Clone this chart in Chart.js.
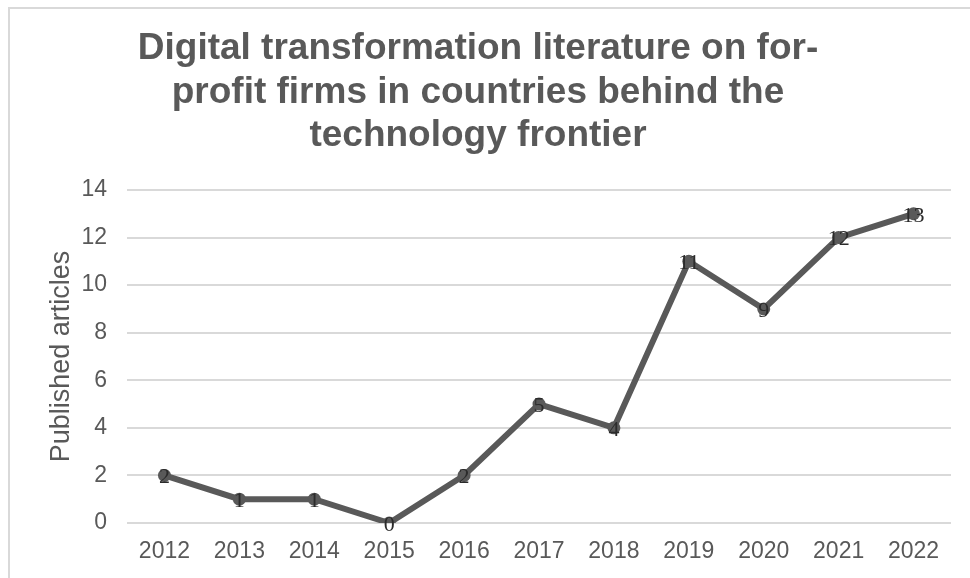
<!DOCTYPE html>
<html>
<head>
<meta charset="utf-8">
<title>Digital transformation literature</title>
<script src="https://cdn.jsdelivr.net/npm/chart.js@4"></script>
<style>
  html, body { margin: 0; padding: 0; background: #fff; }
  #wrap { position: relative; width: 970px; height: 578px; }
  #frame {
    position: absolute; left: 8px; top: 7px; right: 0; bottom: 0;
    border-top: 2px solid #d9d9d9; border-left: 2px solid #d9d9d9;
    pointer-events: none;
  }
</style>
</head>
<body>
<div id="wrap">
  <canvas id="chart" width="970" height="578"></canvas>
  <div id="frame"></div>
</div>
<script>
/* Published articles per year. */
var years = ["2012", "2013", "2014", "2015", "2016", "2017", "2018", "2019", "2020", "2021", "2022"];
var articles = [2, 1, 1, 0, 2, 5, 4, 11, 9, 12, 13];
var yMin = 0, yMax = 14, yStep = 2;

var grey = "#595959";

// draws each value centred on its marker (no datalabels plugin offline)
var pointLabels = {
  id: "pointLabels",
  afterDatasetsDraw: function (chart) {
    var ctx = chart.ctx;
    var meta = chart.getDatasetMeta(0);
    ctx.save();
    ctx.font = "22px 'Liberation Serif', 'Times New Roman', serif";
    ctx.fillStyle = "#2b2b2b";
    ctx.textAlign = "center";
    ctx.textBaseline = "middle";
    meta.data.forEach(function (pt, i) {
      ctx.fillText(String(articles[i]), pt.x, pt.y + 2);
    });
    ctx.restore();
  }
};

Chart.defaults.font.family = "'Liberation Sans', Arial, sans-serif";
Chart.defaults.color = grey;

new Chart(document.getElementById("chart").getContext("2d"), {
  type: "line",
  data: {
    labels: years,
    datasets: [{
      data: articles,
      borderColor: grey,
      backgroundColor: grey,
      borderWidth: 6,
      pointRadius: 6.5,
      pointBorderWidth: 0,
      pointBackgroundColor: grey,
      tension: 0
    }]
  },
  options: {
    responsive: false,
    animation: false,
    layout: { padding: { left: 5, right: 19, top: 10, bottom: 13 } },
    plugins: {
      legend: { display: false },
      tooltip: { enabled: false },
      title: {
        display: true,
        text: ["Digital transformation literature on for-",
               "profit firms in countries behind the",
               "technology frontier"],
        color: grey,
        font: { size: 37, weight: "bold", lineHeight: 1.18 },
        padding: { top: 17, bottom: 32 }
      }
    },
    scales: {
      x: {
        offset: true,
        afterFit: function (s) { s.height = 42; },
        grid: { display: false, drawTicks: false },
        border: { display: false },
        ticks: { color: grey, font: { size: 23 }, padding: 15, maxRotation: 0 }
      },
      y: {
        min: yMin,
        max: yMax,
        afterFit: function (s) { s.width = 122; },
        grid: { color: "#d9d9d9", lineWidth: 2, drawTicks: false },
        border: { display: false },
        ticks: { stepSize: yStep, color: grey, font: { size: 23 }, padding: 20 },
        title: {
          display: true,
          text: "Published articles",
          color: grey,
          font: { size: 27 },
          padding: { top: 40, bottom: 0 }
        }
      }
    }
  },
  plugins: [pointLabels]
});
</script>
</body>
</html>
